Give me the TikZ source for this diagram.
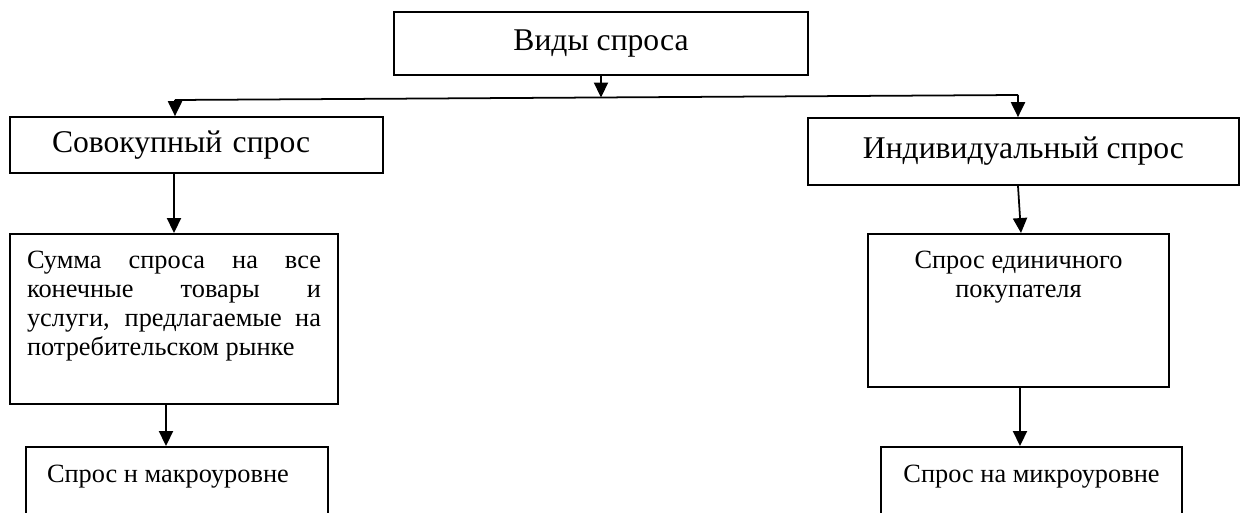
\documentclass[tikz,border=0pt]{standalone}
\usepackage{fontspec}
\setmainfont{Liberation Serif}
\usetikzlibrary{arrows.meta, positioning}

\begin{document}
\begin{tikzpicture}[x=0.02cm, y=-0.02cm,
        box/.style={draw, line width=1pt},
        conn/.style={line width=1pt, -{Triangle[length=8.5pt, width=8pt]}},
        head/.style={font=\fontsize{18}{21}\selectfont},
        body/.style={font=\fontsize{15}{16.6}\selectfont}]
        \useasboundingbox (0,0) rectangle (1242,513);
        \clip (0,0) rectangle (1242,513);
        \node[box, head, minimum width=8.28cm, minimum height=1.26cm] (tipy) at (601,43.5) {Виды спроса};
        \node[box, head, text width=5.78cm, inner xsep=0.84cm, align=left, minimum height=1.12cm] (sov) at (196.5,145) {Совокупный спрос};
        \node[box, head, minimum width=8.62cm, minimum height=1.34cm] (ind) at (1023.5,151.5) {Индивидуальный спрос};
        \node[box, body, anchor=north, inner xsep=0.34cm, inner ysep=0.34cm] (sum) at (174,233)
            {\parbox[t][2.72cm][t]{5.88cm}{\hyphenpenalty=10000 Сумма спроса на все\linebreak конечные товары и\linebreak услуги, предлагаемые на\linebreak потребительском рынке}};
        \node[box, body, anchor=north, inner xsep=0.2cm, inner ysep=0.34cm] (edin) at (1018.5,233)
            {\parbox[t][2.38cm][t]{5.62cm}{\centering Спрос единичного\\ покупателя}};
        \node[box, body, anchor=north, inner xsep=0.42cm, inner ysep=0.37cm] (makro) at (177,446)
            {\parbox[t][1.5cm][t]{5.2cm}{Спрос н макроуровне}};
        \node[box, body, anchor=north, inner xsep=0.2cm, inner ysep=0.37cm] (mikro) at (1031.5,446)
            {\parbox[t][1.5cm][t]{5.62cm}{\centering Спрос на микроуровне}};
        % branching line under the top box
        \coordinate (jl) at (175,100);
        \coordinate (jr) at (1018,95);
        \coordinate (jm) at (601,97.5);
        \draw[conn] (tipy.south) -- (jm);
        \draw[line width=1pt] (jl) -- (jr);
        \draw[conn] (jl) -- (jl |- sov.north);
        \draw[conn] (jr) -- (jr |- ind.north);
        \draw[conn] (sum.north |- sov.south) -- (sum.north);
        \draw[conn] ([xshift=-0.11cm]ind.south) -- ([xshift=0.05cm]edin.north);
        \draw[conn] ([xshift=-0.16cm]sum.south) -- ([xshift=-0.16cm]sum.south |- makro.north);
        \draw[conn] ([xshift=0.03cm]edin.south) -- ([xshift=0.03cm]edin.south |- mikro.north);
    \end{tikzpicture}
\end{document}
